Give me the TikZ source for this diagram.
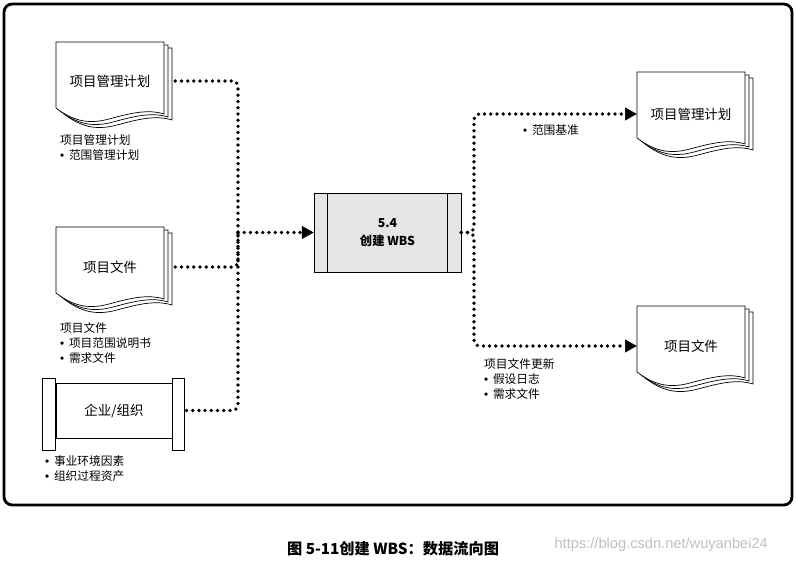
\documentclass[tikz,border=0pt]{standalone}
\usepackage{fontspec}
\setmainfont{Noto Sans CJK SC}
\newfontfamily\wmfont{Liberation Sans}
\newcommand\bul{{\wmfont\char"2022}\hspace{4pt}}
\usetikzlibrary{arrows.meta,calc}

\tikzset{
  docstack/.pic={
    \foreach \d in {8,4,0}
      \filldraw[fill=white, line width=0.6pt] (\d,0.75*\d) -- ++(108,0) -- ++(0,72)
        .. controls +(-16,-5) and +(22,-6) .. ++(-55,5)
        .. controls +(-22,6) and +(16,12) .. ++(-53,-11) -- cycle;
  }
}

\begin{document}
\begin{tikzpicture}[x=0.03cm, y=-0.03cm,
  flow/.style={line width=3.2pt, line cap=round, dash pattern=on 0pt off 5.3pt, rounded corners=5pt},
  tip/.style={-{Triangle[length=10pt, width=11pt, line width=0.5pt]}},
  doctitle/.style={minimum width=3.24cm, inner sep=0pt, font=\fontsize{11.5}{13}\selectfont},
  note/.style={anchor=north west, align=left, inner sep=0pt, font=\fontsize{10}{12.75}\selectfont},
  procbox/.style={draw, fill=gray!20, line width=0.6pt, minimum width=4.41cm, minimum height=2.37cm,
    align=center, font=\bfseries\fontsize{10.5}{16}\selectfont},
  entbox/.style={draw, line width=0.8pt, minimum width=3.48cm, minimum height=1.65cm,
    font=\fontsize{11.5}{13}\selectfont}]
  \useasboundingbox (0,0) rectangle (796,563);
  \draw[line width=2.4pt, rounded corners=7pt] (4,4) rectangle (792,505);

  % inputs
  \pic at (56,42) {docstack};
  \pic at (56,227) {docstack};
  \node[doctitle] (pmpin) at (110,81) {项目管理计划};
  \node[doctitle] (docin) at (110,267) {项目文件};

  \node[entbox] (ent) at (114,410.5) {企业/组织};
  \draw[line width=0.8pt] ($(ent.north west)+(-13,-4)$) rectangle ($(ent.south west)+(0,12)$);
  \draw[line width=0.8pt] ($(ent.north east)+(0,-4)$) rectangle ($(ent.south east)+(12,12)$);

  \node[note] (pmpnote) at (60,134) {项目管理计划\\\bul 范围管理计划};
  \node[note] (docnote) at (60,322) {项目文件\\\bul 项目范围说明书\\\bul 需求文件};
  \node[note] (entnote) at (45,455) {\bul 事业环境因素\\\bul 组织过程资产};

  % process
  \node[procbox] (proc) at (387.5,232.5) {5.4\\创建 WBS};
  \draw[line width=0.6pt] ($(proc.north west)+(14,0)$) -- ($(proc.south west)+(14,0)$);
  \draw[line width=0.6pt] ($(proc.north east)+(-14,0)$) -- ($(proc.south east)+(-14,0)$);

  % outputs
  \pic at (637,72) {docstack};
  \pic at (637,306) {docstack};
  \node[doctitle] (pmpout) at (691,114) {项目管理计划};
  \node[doctitle] (docout) at (691,346) {项目文件};

  \node[note] (scbnote) at (523,124) {\bul 范围基准};
  \node[note] (updnote) at (484,358) {项目文件更新\\\bul 假设日志\\\bul 需求文件};

  % data flow
  \coordinate (joinL) at (238,232.5);
  \coordinate (joinR) at (474,232.5);
  \draw[flow, shorten <=0.33cm] (pmpin.east) -| (joinL);
  \draw[flow, shorten <=0.33cm] (docin.east) -| (joinL);
  \draw[flow, shorten <=0.42cm] (ent.east) -| (joinL);
  \draw[flow, tip] (joinL) -- (proc.west);
  \draw[flow, tip] (proc.east) -- (joinR) |- (pmpout.west);
  \draw[flow, tip] (proc.east) -- (joinR) |- (docout.west);

  \node[font=\bfseries\fontsize{13}{15}\selectfont] (caption) at (393,549) {图 5-11创建 WBS：数据流向图};
  \node[anchor=east, text=black!25, font=\wmfont\fontsize{12.5}{14}\selectfont] (wmark) at (772,545)
    {https://blog.csdn.net/wuyanbei24};
\end{tikzpicture}
\end{document}
